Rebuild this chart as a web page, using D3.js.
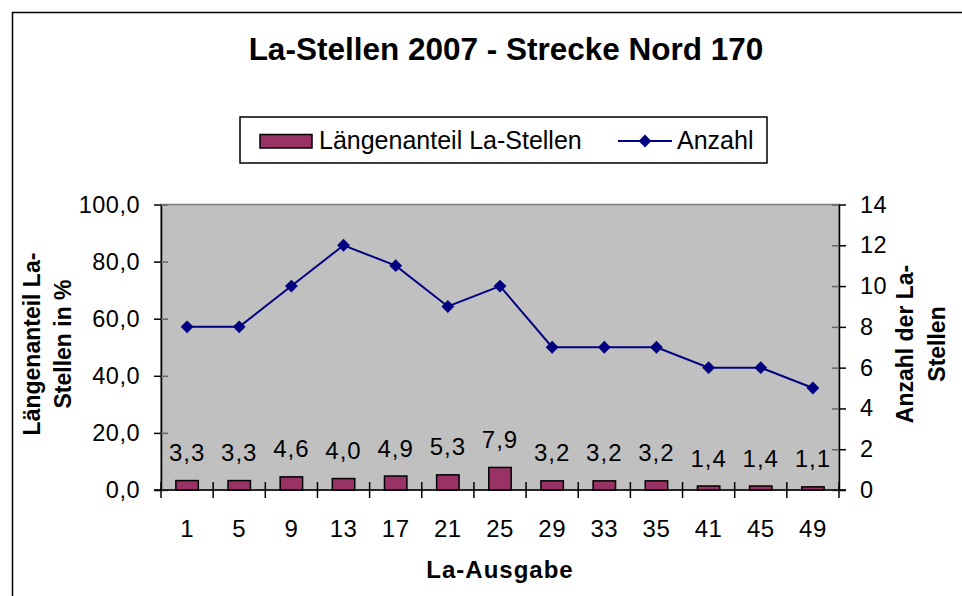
<!DOCTYPE html>
<html>
<head>
<meta charset="utf-8">
<script src="https://cdn.jsdelivr.net/npm/d3@7"></script>
<style>
  body { margin: 0; background: #fff; }
  svg text { font-family: "Liberation Sans", Arial, sans-serif; fill: #000; }
</style>
</head>
<body>
<div id="chart"></div>
<script>
// La-Ausgabe categories
const categories = ['1', '5', '9', '13', '17', '21', '25', '29', '33', '35', '41', '45', '49'];
// Längenanteil La-Stellen in %
const shareValues = [3.3, 3.3, 4.6, 4.0, 4.9, 5.3, 7.9, 3.2, 3.2, 3.2, 1.4, 1.4, 1.1];
// Anzahl der La-Stellen
const countValues = [8, 8, 10, 12, 11, 9, 10, 7, 7, 7, 6, 6, 5];
const leftTicks = [0, 20, 40, 60, 80, 100];
const rightTicks = [0, 2, 4, 6, 8, 10, 12, 14];

function fmt(v) {
    return v.toFixed(1).replace('.', ',');
}

function skillchart(anchor, svgWidth = 962, svgHeight = 596) {
    let plot = {left: 161, right: 839, top: 204.5, bottom: 490};

    let x = d3.scaleBand().domain(categories).range([plot.left, plot.right]),
        yLeft = d3.scaleLinear().domain([0, 100]).range([plot.bottom, plot.top]),
        yRight = d3.scaleLinear().domain([0, 14]).range([plot.bottom, plot.top]);

    let svg = d3.select(anchor).append('svg')
        .attr('width', svgWidth)
        .attr('height', svgHeight);

    // outer chart border (runs off the right and bottom edge)
    svg.append('rect')
        .attr('x', 12.5).attr('y', 12.5)
        .attr('width', 1000).attr('height', 1000)
        .attr('fill', 'none').attr('stroke', '#000').attr('stroke-width', 1.5);

    svg.append('text')
        .attr('x', 506).attr('y', 60)
        .attr('text-anchor', 'middle')
        .style('font-size', '31.5px').style('font-weight', 'bold')
        .text('La-Stellen 2007 - Strecke Nord 170');

    // plot area
    svg.append('rect')
        .attr('x', plot.left).attr('y', plot.top)
        .attr('width', plot.right - plot.left).attr('height', plot.bottom - plot.top)
        .attr('fill', '#c0c0c0').attr('stroke', '#808080').attr('stroke-width', 1.5);

    // axes
    let leftAxis = d3.axisLeft(yLeft).tickValues(leftTicks)
            .tickSizeInner(7).tickSizeOuter(0).tickPadding(14).tickFormat(fmt),
        rightAxis = d3.axisRight(yRight).tickValues(rightTicks)
            .tickSizeInner(7).tickSizeOuter(0).tickPadding(14);

    let gl = svg.append('g').attr('transform', 'translate(' + plot.left + ',0)').call(leftAxis);
    let gr = svg.append('g').attr('transform', 'translate(' + plot.right + ',0)').call(rightAxis);
    [gl, gr].forEach(function (g) {
        g.select('.domain').attr('stroke', '#000').attr('stroke-width', 1.5);
        g.selectAll('.tick line').attr('stroke', '#000').attr('stroke-width', 1.5);
        g.selectAll('.tick text').style('font-size', '23.5px').style('letter-spacing', '0.5px')
            .style('font-family', '"Liberation Sans", Arial, sans-serif').attr('fill', '#000');
    });
    // inside tick halves in gray
    gl.selectAll('.tick').append('line').attr('x1', 0).attr('x2', 7)
        .attr('stroke', '#666').attr('stroke-width', 1.5);
    gr.selectAll('.tick').append('line').attr('x1', 0).attr('x2', -7)
        .attr('stroke', '#666').attr('stroke-width', 1.5);

    // category axis
    let xg = svg.append('g');
    xg.append('line')
        .attr('x1', plot.left - 7).attr('x2', plot.right + 7)
        .attr('y1', plot.bottom).attr('y2', plot.bottom)
        .attr('stroke', '#000').attr('stroke-width', 1.5);
    let bounds = categories.map(function (c) { return x(c); }).concat([plot.right]);
    xg.selectAll('line.xt').data(bounds).enter().append('line')
        .attr('class', 'xt')
        .attr('x1', function (d) { return d; }).attr('x2', function (d) { return d; })
        .attr('y1', plot.bottom - 8).attr('y2', plot.bottom + 8)
        .attr('stroke', '#000').attr('stroke-width', 1.5);
    xg.selectAll('text').data(categories).enter().append('text')
        .attr('x', function (d) { return x(d) + x.bandwidth() / 2; })
        .attr('y', 537)
        .attr('text-anchor', 'middle')
        .style('font-size', '24px').style('letter-spacing', '0.5px')
        .text(function (d) { return d; });

    // bars
    let barW = x.bandwidth() * 0.43;
    svg.selectAll('rect.bar').data(shareValues).enter().append('rect')
        .attr('class', 'bar')
        .attr('x', function (d, i) { return x(categories[i]) + (x.bandwidth() - barW) / 2; })
        .attr('y', function (d) { return yLeft(d); })
        .attr('width', barW)
        .attr('height', function (d) { return plot.bottom - yLeft(d); })
        .attr('fill', '#993366').attr('stroke', '#000').attr('stroke-width', 1.5);

    svg.selectAll('text.lbl').data(shareValues).enter().append('text')
        .attr('class', 'lbl')
        .attr('x', function (d, i) { return x(categories[i]) + x.bandwidth() / 2; })
        .attr('y', function (d) { return yLeft(d) - 19.5; })
        .attr('text-anchor', 'middle')
        .style('font-size', '24px').style('letter-spacing', '1px')
        .text(fmt);

    // count line
    let countLine = d3.line()
        .x(function (d, i) { return x(categories[i]) + x.bandwidth() / 2; })
        .y(function (d) { return yRight(d); });

    svg.append('path').datum(countValues)
        .attr('d', countLine)
        .attr('fill', 'none').attr('stroke', '#000080').attr('stroke-width', 2);

    let diamond = d3.symbol().type(d3.symbolDiamond2).size(105);
    svg.selectAll('path.pt').data(countValues).enter().append('path')
        .attr('class', 'pt')
        .attr('d', diamond)
        .attr('transform', function (d, i) {
            return 'translate(' + (x(categories[i]) + x.bandwidth() / 2) + ',' + yRight(d) + ')';
        })
        .attr('fill', '#000080');

    // axis titles
    let leftTitle = svg.append('text')
        .attr('transform', 'translate(40,344) rotate(-90)')
        .attr('text-anchor', 'middle')
        .style('font-size', '23px').style('font-weight', 'bold');
    leftTitle.append('tspan').attr('x', 0).attr('y', 0).text('Längenanteil La-');
    leftTitle.append('tspan').attr('x', 0).attr('y', 31).text('Stellen in %');

    let rightTitle = svg.append('text')
        .attr('transform', 'translate(913,344) rotate(-90)')
        .attr('text-anchor', 'middle')
        .style('font-size', '23px').style('font-weight', 'bold');
    rightTitle.append('tspan').attr('x', 0).attr('y', 0).text('Anzahl der La-');
    rightTitle.append('tspan').attr('x', 0).attr('y', 32).text('Stellen');

    svg.append('text')
        .attr('x', 500).attr('y', 578)
        .attr('text-anchor', 'middle')
        .style('font-size', '24px').style('font-weight', 'bold').style('letter-spacing', '1px')
        .text('La-Ausgabe');

    // legend
    let legend = svg.append('g');
    legend.append('rect')
        .attr('x', 240).attr('y', 117).attr('width', 527).attr('height', 46)
        .attr('fill', '#fff').attr('stroke', '#000').attr('stroke-width', 1.5);
    legend.append('rect')
        .attr('x', 260).attr('y', 134.5).attr('width', 52).attr('height', 13.5)
        .attr('fill', '#993366').attr('stroke', '#000').attr('stroke-width', 1.5);
    legend.append('text')
        .attr('x', 319).attr('y', 149)
        .style('font-size', '25px')
        .text('Längenanteil La-Stellen');
    legend.append('line')
        .attr('x1', 618).attr('x2', 672).attr('y1', 141).attr('y2', 141)
        .attr('stroke', '#000080').attr('stroke-width', 2);
    legend.append('path')
        .attr('d', diamond)
        .attr('transform', 'translate(645,141)')
        .attr('fill', '#000080');
    legend.append('text')
        .attr('x', 677).attr('y', 149)
        .style('font-size', '25px')
        .text('Anzahl');
}

skillchart('#chart');
</script>
</body>
</html>
